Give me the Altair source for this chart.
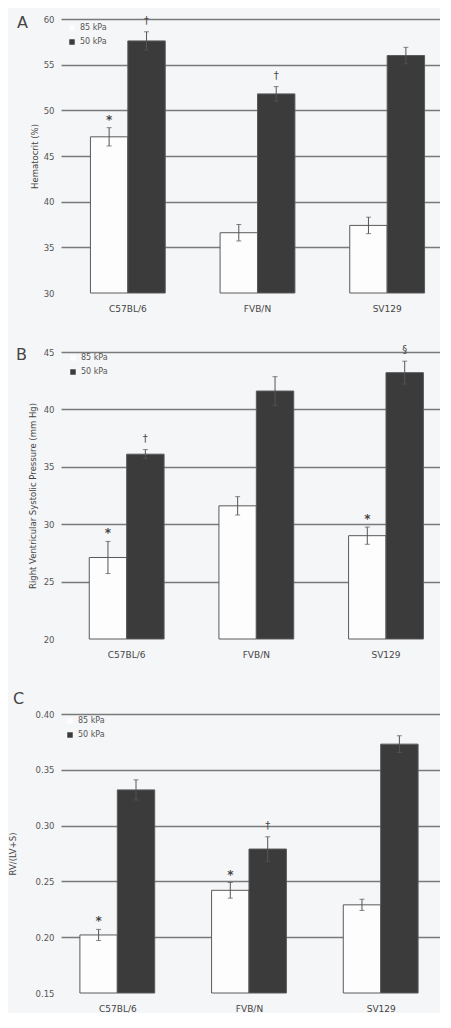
import altair as alt
import pandas as pd

strains = ["C57BL/6", "FVB/N", "SV129"]
groups = ["85 kPa", "50 kPa"]

# Panel A: Hematocrit (%)
hct_85 = [47.1, 36.6, 37.4]
hct_85_err = [1.0, 0.9, 0.9]
hct_50 = [57.6, 51.8, 56.0]
hct_50_err = [1.0, 0.8, 0.9]
hct_85_sig = ["*", "", ""]
hct_50_sig = ["†", "†", ""]
hct_ticks = [30, 35, 40, 45, 50, 55, 60]

# Panel B: Right Ventricular Systolic Pressure (mm Hg)
rvsp_85 = [27.1, 31.6, 29.0]
rvsp_85_err = [1.4, 0.8, 0.75]
rvsp_50 = [36.1, 41.6, 43.2]
rvsp_50_err = [0.4, 1.25, 1.0]
rvsp_85_sig = ["*", "", "*"]
rvsp_50_sig = ["†", "", "§"]
rvsp_ticks = [20, 25, 30, 35, 40, 45]

# Panel C: RV/(LV+S)
rvi_85 = [0.202, 0.242, 0.229]
rvi_85_err = [0.005, 0.007, 0.005]
rvi_50 = [0.332, 0.279, 0.373]
rvi_50_err = [0.009, 0.011, 0.0075]
rvi_85_sig = ["*", "*", ""]
rvi_50_sig = ["", "†", ""]
rvi_ticks = [0.15, 0.20, 0.25, 0.30, 0.35, 0.40]

INK = "#454545"
DARK = "#3b3b3b"
BG = "#f5f6f7"
W = 379


def make_panel(m85, e85, s85, m50, e50, s50, ticks, fmt, ytitle, height,
               letter, letter_x, letter_y, title_pad,
               leg_x, leg_y, x_pi, x_po, x_align):
    rows = []
    for i, s in enumerate(strains):
        rows.append(dict(strain=s, group=groups[0], mean=m85[i], err=e85[i], sig=s85[i]))
        rows.append(dict(strain=s, group=groups[1], mean=m50[i], err=e50[i], sig=s50[i]))
    df = pd.DataFrame(rows)
    df["lo"] = df["mean"] - df["err"]
    df["hi"] = df["mean"] + df["err"]
    ymin, ymax = ticks[0], ticks[-1]

    yscale = alt.Scale(domain=[ymin, ymax], nice=False, zero=False)
    yaxis = alt.Axis(
        title=ytitle, values=ticks, format=fmt, domain=False, ticks=False,
        labelPadding=7, labelFontSize=8.5, labelColor="#555",
        titleFontSize=8.5, titleFontWeight="normal", titleColor=INK,
        titlePadding=title_pad,
        grid=True, gridColor="#7a7a7a", gridWidth=1.4,
        gridOpacity={"condition": {"test": f"datum.value <= {ymin} + 1e-9", "value": 0}, "value": 1},
    )

    base = alt.Chart(df).encode(
        x=alt.X("strain:N", sort=strains,
                scale=alt.Scale(paddingInner=x_pi, paddingOuter=x_po, align=x_align),
                axis=alt.Axis(title=None, labelAngle=0, domain=False, ticks=False,
                              labelPadding=11, labelFontSize=9, labelColor=INK)),
        xOffset=alt.XOffset("group:N", sort=groups,
                            scale=alt.Scale(paddingInner=0, paddingOuter=0)),
    )

    bars = base.mark_bar(stroke="#5a5a5a", strokeWidth=1).encode(
        y=alt.Y("mean:Q", scale=yscale, axis=yaxis),
        y2=alt.datum(ymin),
        color=alt.Color("group:N", sort=groups,
                        scale=alt.Scale(domain=groups, range=["#fdfdfd", DARK]),
                        legend=alt.Legend(title=None, orient="none", legendX=leg_x, legendY=leg_y,
                                          symbolType="square", symbolSize=30, symbolStrokeWidth=0,
                                          labelFontSize=8, labelColor="#555", rowPadding=6,
                                          padding=0)),
    )
    err_rule = base.mark_rule(color="#555", strokeWidth=1).encode(
        y=alt.Y("lo:Q", scale=yscale, axis=yaxis), y2="hi:Q")
    cap_lo = base.mark_tick(color="#555", thickness=1, size=5).encode(
        y=alt.Y("lo:Q", scale=yscale, axis=yaxis))
    cap_hi = base.mark_tick(color="#555", thickness=1, size=5).encode(
        y=alt.Y("hi:Q", scale=yscale, axis=yaxis))
    star = base.transform_filter("datum.sig == '*'").mark_text(
        baseline="alphabetic", dy=-4, fontSize=12, fontWeight="bold", color=INK).encode(
        y=alt.Y("hi:Q", scale=yscale, axis=yaxis), text="sig:N")
    dag = base.transform_filter("datum.sig != '*' && datum.sig != ''").mark_text(
        baseline="alphabetic", dy=-8, fontSize=10, color=INK).encode(
        y=alt.Y("hi:Q", scale=yscale, axis=yaxis), text="sig:N")

    tag = alt.Chart(pd.DataFrame({"panel": [letter]})).mark_text(
        align="left", baseline="alphabetic", fontSize=16, color=INK).encode(
        x=alt.value(letter_x), y=alt.value(letter_y), text="panel:N")

    return alt.layer(bars, err_rule, cap_lo, cap_hi, star, dag, tag).properties(
        width=W, height=height)


pA = make_panel(hct_85, hct_85_err, hct_85_sig, hct_50, hct_50_err, hct_50_sig,
                hct_ticks, "d", "Hematocrit (%)", 274, "A", -44, 9, 4,
                7, 5, 0.423, 0.173, 0.656)
pB = make_panel(rvsp_85, rvsp_85_err, rvsp_85_sig, rvsp_50, rvsp_50_err, rvsp_50_sig,
                rvsp_ticks, "d", "Right Ventricular Systolic Pressure (mm Hg)", 287, "B", -45, 8, 6,
                8, 2, 0.423, 0.173, 0.63)
pC = make_panel(rvi_85, rvi_85_err, rvi_85_sig, rvi_50, rvi_50_err, rvi_50_sig,
                rvi_ticks, ".2f", "RV/(LV+S)", 279, "C", -48, -10, 18,
                5, 3, 0.424, 0.151, 0.475)

chart = alt.vconcat(pA, pB, pC, spacing=32).resolve_scale(
    color="independent"
).resolve_legend(color="independent").properties(
    padding={"left": 0, "top": 7, "right": 0, "bottom": 0},
    background=BG,
).configure(font="DejaVu Sans").configure_view(strokeWidth=0)

chart.save("out.html", embed_options={"renderer": "svg", "actions": False})
